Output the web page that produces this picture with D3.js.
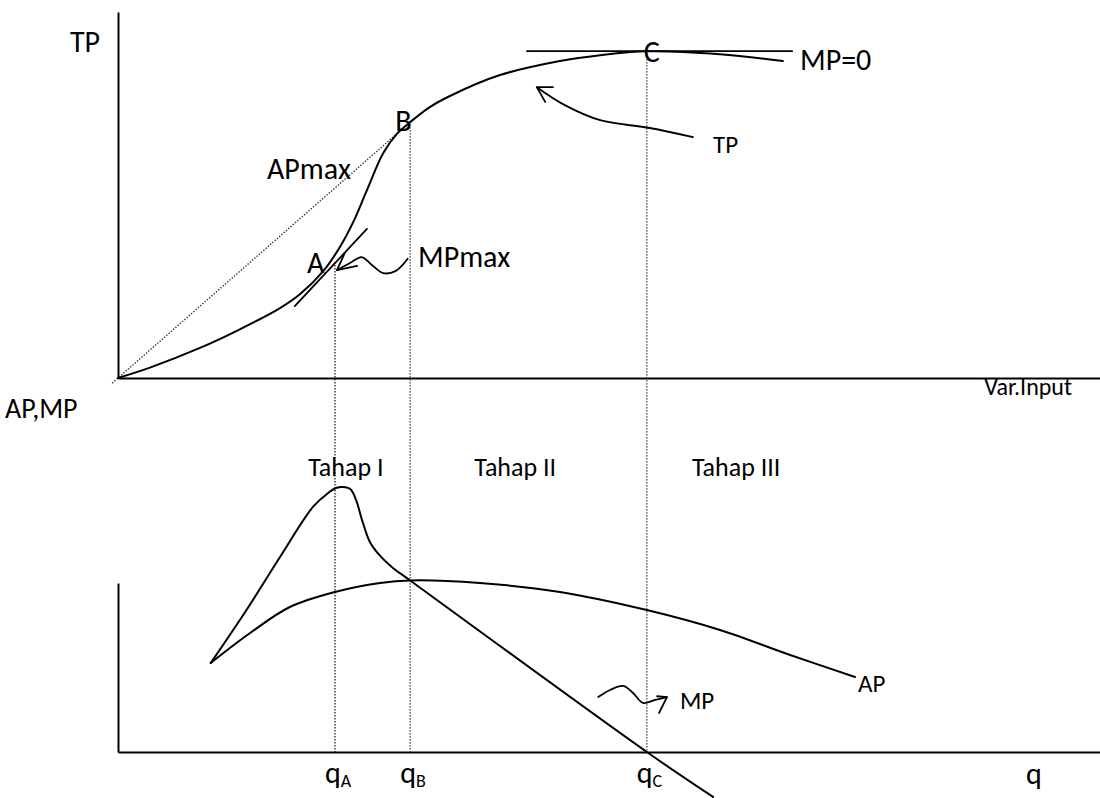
<!DOCTYPE html>
<html>
<head>
<meta charset="utf-8">
<script src="https://cdn.jsdelivr.net/npm/d3@7"></script>
<style>
  html, body { margin: 0; padding: 0; background: #fff; }
  svg { display: block; }
  text { font-family: Carlito, Calibri, Lato, sans-serif; fill: #000; }
</style>
</head>
<body>
<svg id="chart" width="1100" height="798"></svg>
<script>
// Input quantities where the three stages are separated
const stageMarks = ["A", "B", "C"];
const stageQ = [4.42, 5.95, 10.77];
const stageLabels = ["Tahap I", "Tahap II", "Tahap III"];
const stageLabelQ = [4.64, 8.09, 12.59];

// Total product (TP) against variable input
const tpCurve = [
  [0, 0], [0.65, 3.18], [1.67, 9.21], [2.42, 14.44], [3.30, 21.4], [3.71, 25.7],
  [4.18, 32.7], [4.52, 40.1], [4.79, 47.7], [5.07, 57.5], [5.40, 68.8],
  [5.68, 74.7], [5.95, 78.3], [6.35, 82.9], [6.76, 86.3], [7.78, 92.7],
  [9.00, 97.0], [9.82, 98.8], [10.77, 100], [12.26, 99.1], [13.54, 97.0]
];

// Average product (AP) and marginal product (MP)
const apCurve = [
  [1.89, 5.27], [2.69, 7.04], [3.50, 8.58], [4.42, 9.47], [5.34, 10.0],
  [5.95, 10.15], [7.37, 10.0], [9.00, 9.47], [10.77, 8.40], [12.26, 7.22],
  [13.69, 5.74], [15.01, 4.44]
];
const mpCurve = [
  [1.89, 5.27], [2.59, 8.28], [3.30, 11.54], [3.97, 14.50], [4.28, 15.33],
  [4.44, 15.62], [4.58, 15.68], [4.73, 15.56], [4.85, 14.91], [4.97, 13.73],
  [5.13, 12.43], [5.34, 11.60], [5.60, 10.89], [5.95, 10.15], [10.77, 0],
  [12.12, -2.66]
];

// Tangent at A (MP max) and at C (MP = 0)
const tangentA = [[3.60, 22.0], [5.07, 45.6]];
const tangentC = [[8.33, 100], [13.73, 100]];

// Pointer strokes for the annotations
const tpPointer = [[11.71, 73.7], [10.83, 76.5], [9.82, 78.9], [9.10, 83.5], [8.53, 89.0]];
const tpPointerHead = [[8.86, 89.0], [8.53, 89.0], [8.70, 84.5]];
const mpMaxPointer = [[5.90, 36.5], [5.65, 32.7], [5.40, 32.1], [5.17, 34.6], [4.96, 37.0], [4.76, 35.5], [4.46, 33.0]];
const mpMaxPointerHead = [[4.87, 34.3], [4.46, 33.0], [4.62, 38.3]];
const mpPointer = [[9.78, 3.25], [10.02, 3.67], [10.29, 3.91], [10.49, 3.49], [10.69, 2.90], [10.94, 3.08], [11.18, 3.25]];
const mpPointerHead = [[10.98, 3.30], [11.18, 3.25], [11.02, 2.31]];

const svg = d3.select("#chart");

const x = d3.scaleLinear().domain([0, 20]).range([118, 1100]);
const yTop = d3.scaleLinear().domain([0, 112]).range([378, 12]);
const yBot = d3.scaleLinear().domain([0, 10]).range([752, 583]);

// Axes: bare lines, no ticks
function bareAxis(axis) {
  return g => {
    g.call(axis.ticks(0).tickSizeOuter(0));
    g.select(".domain").attr("stroke", "#000").attr("stroke-width", 2);
  };
}
svg.append("g").attr("transform", `translate(0,${yTop(0)})`).call(bareAxis(d3.axisBottom(x)));
svg.append("g").attr("transform", `translate(${x(0)},0)`).call(bareAxis(d3.axisLeft(yTop)));
svg.append("g").attr("transform", `translate(0,${yBot(0)})`).call(bareAxis(d3.axisBottom(x)));
svg.append("g").attr("transform", `translate(${x(0)},0)`).call(bareAxis(d3.axisLeft(yBot)));

const lineTop = d3.line().x(d => x(d[0])).y(d => yTop(d[1]));
const lineBot = d3.line().x(d => x(d[0])).y(d => yBot(d[1]));
const smoothTop = d3.line().x(d => x(d[0])).y(d => yTop(d[1])).curve(d3.curveCatmullRom.alpha(0.5));
const smoothBot = d3.line().x(d => x(d[0])).y(d => yBot(d[1])).curve(d3.curveCatmullRom.alpha(0.5));

function stroke(sel, w) {
  return sel.attr("fill", "none").attr("stroke", "#000").attr("stroke-width", w)
    .attr("stroke-linejoin", "round").attr("stroke-linecap", "round");
}

// Dotted guides from each stage mark down to the q axis
const tpAt = q => {
  const i = d3.bisector(d => d[0]).left(tpCurve, q);
  const a = tpCurve[Math.max(0, i - 1)], b = tpCurve[Math.min(tpCurve.length - 1, i)];
  return a[0] === b[0] ? a[1] : a[1] + (b[1] - a[1]) * (q - a[0]) / (b[0] - a[0]);
};
stageQ.forEach((q, i) => {
  svg.append("line")
    .attr("x1", x(q)).attr("x2", x(q))
    .attr("y1", yTop(tpAt(q)) + (i === 0 ? 8 : 2)).attr("y2", yBot(0))
    .attr("stroke", "#333").attr("stroke-width", 1.4).attr("stroke-dasharray", "1.4,1.6");
});

// Ray from origin through B (AP max)
const qB = stageQ[1], tpB = tpAt(qB);
svg.append("line")
  .attr("x1", x(-0.02 * qB)).attr("y1", yTop(-0.02 * tpB))
  .attr("x2", x(qB)).attr("y2", yTop(tpB))
  .attr("stroke", "#333").attr("stroke-width", 1.4).attr("stroke-dasharray", "1.4,1.6");

// Curves
stroke(svg.append("path").attr("d", smoothTop(tpCurve)), 2);
stroke(svg.append("path").attr("d", lineTop(tangentA)), 1.8);
stroke(svg.append("path").attr("d", lineTop(tangentC)), 1.8);
stroke(svg.append("path").attr("d", smoothBot(apCurve)), 2);
stroke(svg.append("path").attr("d", smoothBot(mpCurve)), 2);

// Pointers
stroke(svg.append("path").attr("d", smoothTop(tpPointer)), 1.8);
stroke(svg.append("path").attr("d", lineTop(tpPointerHead)), 1.8);
stroke(svg.append("path").attr("d", smoothTop(mpMaxPointer)), 1.8);
stroke(svg.append("path").attr("d", lineTop(mpMaxPointerHead)), 1.8);
stroke(svg.append("path").attr("d", smoothBot(mpPointer)), 1.8);
stroke(svg.append("path").attr("d", lineBot(mpPointerHead)), 1.8);

// Text
function label(px, py, str, size, anchor) {
  return svg.append("text").attr("x", px).attr("y", py)
    .attr("font-size", size).attr("text-anchor", anchor || "start").text(str);
}
const big = 30;
label(70, 52, "TP", big);
label(5, 418, "AP,MP", 28);
label(1072, 395, "Var.Input", 24, "end");
label(1026, 784, "q", 30);

label(x(stageQ[0]) - 28, 273, "A", big);
label(x(stageQ[1]) - 15, 131, "B", big);
label(x(stageQ[2]) - 3, 62, "C", big);
label(267, 179, "APmax", big);
label(418, 267, "MPmax", big);
label(800, 70, "MP=0", big);
label(713, 153, "TP", 25);

stageLabels.forEach((s, i) => label(x(stageLabelQ[i]), 476, s, 26, "middle"));
label(680, 709, "MP", 25);
label(858, 692, "AP", 25);

// q_A, q_B, q_C under the axis
stageMarks.forEach((m, i) => {
  const t = svg.append("text").attr("x", x(stageQ[i]) - 10).attr("y", 783)
    .attr("font-size", 30).attr("text-anchor", "start");
  t.append("tspan").text("q");
  t.append("tspan").attr("font-size", 18).attr("dy", 4).text(m);
});
</script>
</body>
</html>
